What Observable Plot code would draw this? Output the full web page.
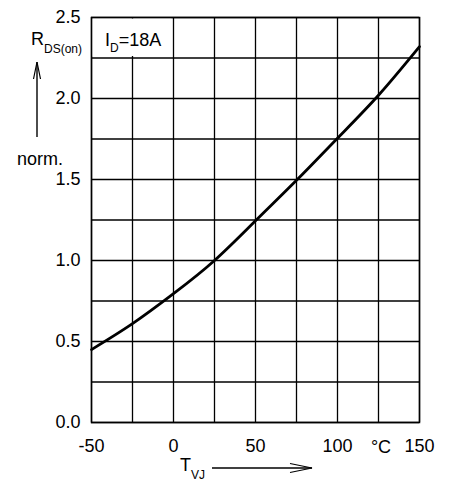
<!DOCTYPE html>
<html>
<head>
<meta charset="utf-8">
<script src="https://cdn.jsdelivr.net/npm/d3@7"></script>
<script src="https://cdn.jsdelivr.net/npm/@observablehq/plot@0.6"></script>
<style>
  html, body { margin: 0; padding: 0; background: #fff; }
  svg text { font-family: "Liberation Sans", Arial, Helvetica, sans-serif; }
</style>
</head>
<body>
<div id="chart"></div>
<script>
// Data
const temps = [-50, -25, 0, 25, 50, 75, 100, 125, 150];
const rdsNorm = [0.45, 0.61, 0.795, 1.0, 1.245, 1.495, 1.755, 2.02, 2.32];
const xGrid = [-50, -25, 0, 25, 50, 75, 100, 125, 150];
const yGrid = [0, 0.25, 0.5, 0.75, 1.0, 1.25, 1.5, 1.75, 2.0, 2.25, 2.5];
const xTickLabels = [-50, 0, 50, 100, 150];
const yTickLabels = [0, 0.5, 1.0, 1.5, 2.0, 2.5];
const labelBox = [{x1: -50, x2: 0, y1: 2.25, y2: 2.5}];

const data = temps.map((t, i) => ({t, r: rdsNorm[i]}));

const chart = Plot.plot({
  width: 452,
  height: 482,
  marginLeft: 91,
  marginRight: 33,
  marginTop: 17,
  marginBottom: 60,
  style: {fontSize: "18px", fontFamily: "Liberation Sans, Arial, Helvetica, sans-serif", color: "black", background: "white"},
  x: {domain: [-50, 150]},
  y: {domain: [0, 2.5]},
  marks: [
    Plot.gridX(xGrid, {stroke: "black", strokeOpacity: 1, strokeWidth: 1.3}),
    Plot.gridY(yGrid, {stroke: "black", strokeOpacity: 1, strokeWidth: 1.3}),
    Plot.rect(labelBox, {x1: "x1", x2: "x2", y1: "y1", y2: "y2", fill: "white", inset: 1.5}),
    Plot.frame({stroke: "black", strokeWidth: 1.5}),
    Plot.axisX(xTickLabels, {tickSize: 0, tickPadding: 17, label: null, tickFormat: d => String(d)}),
    Plot.axisY(yTickLabels, {tickSize: 0, tickPadding: 11, label: null, tickFormat: d3.format(".1f")}),
    Plot.line(data, {x: "t", y: "r", curve: "natural", stroke: "black", strokeWidth: 2.8})
  ]
});

document.getElementById("chart").appendChild(chart);

const svg = d3.select(chart);
const font = "Liberation Sans, Arial, Helvetica, sans-serif";
function txt(x, y, anchor) {
  return svg.append("text").attr("x", x).attr("y", y)
    .attr("text-anchor", anchor || "start")
    .attr("font-size", 18).attr("font-family", font).attr("fill", "black");
}

// R_DS(on)
const r = txt(31, 45);
r.append("tspan").text("R");
r.append("tspan").attr("font-size", 12).attr("dy", 8).text("DS(on)");

// vertical arrow
svg.append("line").attr("x1", 37).attr("x2", 37).attr("y1", 137).attr("y2", 62).attr("stroke", "black").attr("stroke-width", 1.4);
svg.append("path").attr("d", "M33.5,79 L37,62 L40.5,79").attr("fill", "none").attr("stroke", "black").attr("stroke-width", 1.2);

// norm.
txt(17, 165).text("norm.");

// I_D=18A
const idl = txt(105, 46);
idl.append("tspan").text("I");
idl.append("tspan").attr("font-size", 12).attr("dy", 6).text("D");
idl.append("tspan").attr("dy", -6).text("=18A");

// °C unit
txt(381, 453, "middle").text("°C");

// T_VJ
const tv = txt(180, 471);
tv.append("tspan").text("T");
tv.append("tspan").attr("font-size", 12).attr("dy", 8).text("VJ");

// horizontal arrow
svg.append("line").attr("x1", 212).attr("x2", 312).attr("y1", 468).attr("y2", 468).attr("stroke", "black").attr("stroke-width", 1.4);
svg.append("path").attr("d", "M290,463.5 L312,468 L290,472.5").attr("fill", "none").attr("stroke", "black").attr("stroke-width", 1.2);
</script>
</body>
</html>
